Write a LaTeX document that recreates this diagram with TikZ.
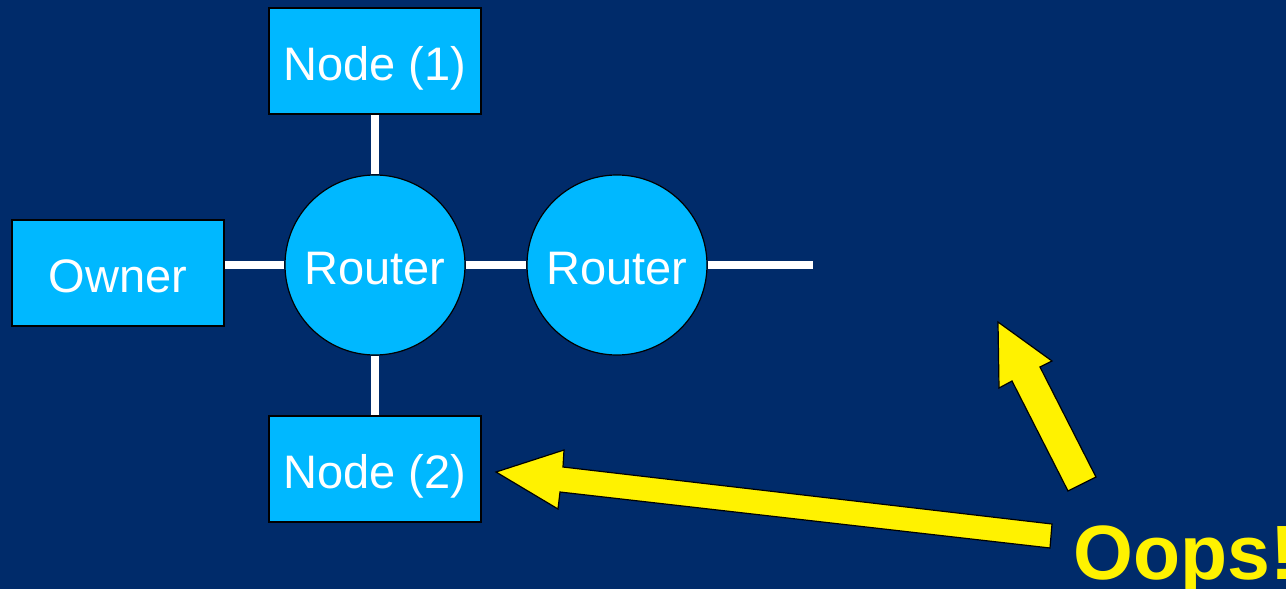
\documentclass[tikz,border=0pt]{standalone}
\usepackage{fontspec}
\setmainfont{Liberation Sans}
\definecolor{slide}{RGB}{0,43,106}
\definecolor{boxblue}{RGB}{0,184,255}
\tikzset{
  host/.style={draw=black, line width=0.8pt, fill=boxblue, text=white,
    minimum width=106pt, minimum height=53pt, inner sep=0pt,
    text height=23.5pt, text depth=4.5pt,
    font=\fontsize{23.5}{28}\selectfont},
  router/.style={circle, draw=black, line width=0.6pt, fill=boxblue, text=white,
    minimum size=90pt, inner sep=0pt, text height=23.5pt, text depth=4.5pt,
    font=\fontsize{23.5}{28}\selectfont},
  link/.style={white, line width=4pt},
  fat/.style={fill=yellow, draw=black, line width=0.6pt, line join=miter}
}
\begin{document}
\begin{tikzpicture}[x=0.5pt, y=-0.5pt]
    \fill[slide] (0,0) rectangle (1286,589);
    \useasboundingbox (0,0) rectangle (1286,589);

    % hosts and routers
    \node[host] (n1) at (375,61) {Node (1)};
    \node[host] (n2) at (375,469) {Node (2)};
    \node[host] (owner) at (118,273) {Owner};
    \node[router] (r1) at (375,265) {Router};
    \node[router] (r2) at (617,265) {Router};
    \coordinate (out) at (813,265);

    % links
    \foreach \a/\b in {r1/n1, r1/n2, r1/r2, r2/out}
        \draw[link] (\a) -- (\b);
    \draw[link] (r1.west) -- (r1.west -| owner.east);

    % the warning
    \node[anchor=base west, inner sep=0pt, text=yellow,
          font=\bfseries\fontsize{38.5}{44}\selectfont] (oops) at (1073,579) {Oops!};
    \draw[fat] (496,472) -- (564,450) -- (563,467) -- (1052,524) -- (1050,548)
        -- (560,492) -- (558,509) -- cycle;
    \draw[fat] (998,322) -- (1052,361) -- (1040,367) -- (1096,477) -- (1068,491)
        -- (1012,381) -- (999,388) -- cycle;
\end{tikzpicture}
\end{document}
